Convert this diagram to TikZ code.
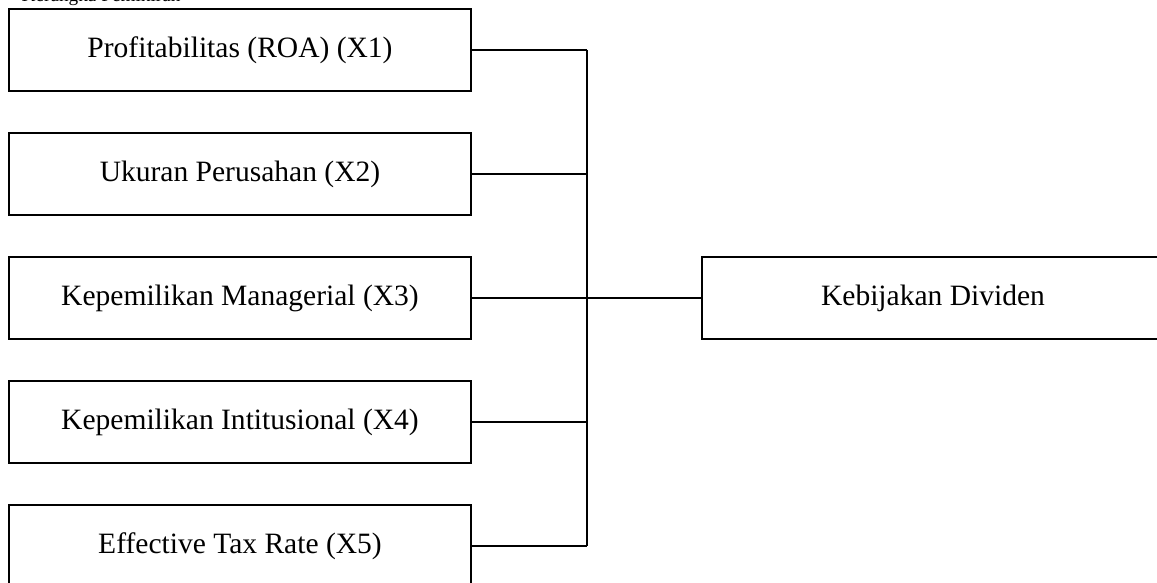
\documentclass[tikz,border=0pt]{standalone}
\usepackage{fontspec}
\setmainfont{Liberation Serif}
\usetikzlibrary{positioning}

\begin{document}
\begin{tikzpicture}[x=0.025cm,y=-0.025cm,line width=0.9pt,font=\fontsize{21}{25}\selectfont]
\useasboundingbox (0,0) rectangle (1157,583);
\node[anchor=base west,inner sep=0pt,font=\fontsize{13.7}{16}\selectfont] (judul) at (21,1.5) {Kerangka Pemikiran};
	\foreach \t [count=\n] in {Profitabilitas (ROA) (X1),Ukuran Perusahan (X2),Kepemilikan Managerial (X3),Kepemilikan Intitusional (X4),Effective Tax Rate (X5)}
		\node[draw,minimum height=2.05cm,minimum width=11.55cm](N\n) at (240,{50+124*(\n-1)}){\t};
	\node[draw,minimum height=2.05cm,minimum width=11.55cm](Y) at (933,298){Kebijakan Dividen};
	\coordinate (J) at (587,298);
	\foreach \n in {1,...,5}
		\draw (N\n.east) -- (N\n.east -| J);
	\draw (N1.east -| J) -- (N5.east -| J);
	\draw (J) -- (Y.west);
\end{tikzpicture}
\end{document}
